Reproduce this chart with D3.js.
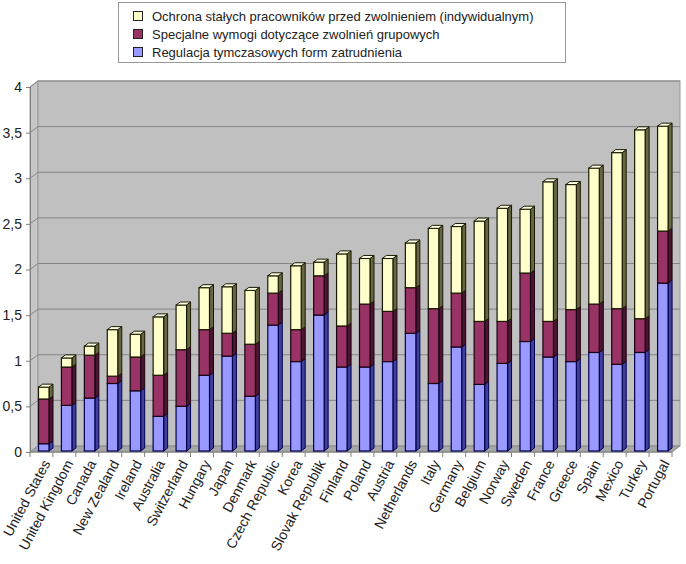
<!DOCTYPE html>
<html><head><meta charset="utf-8">
<script src="https://cdn.jsdelivr.net/npm/d3@7/dist/d3.min.js"></script>
<style>body{margin:0;background:#fff;}svg{display:block;font-family:"Liberation Sans",Arial,sans-serif;}</style>
</head><body>
<svg id="c" width="686" height="564"></svg>
<script>
const countries = ["United States","United Kingdom","Canada","New Zealand","Ireland","Australia","Switzerland","Hungary","Japan","Denmark","Czech Republic","Korea","Slovak Republik","Finland","Poland","Austria","Netherlands","Italy","Germany","Belgium","Norway","Sweden","France","Greece","Spain","Mexico","Turkey","Portugal"];
const temporary = [0.08,0.50,0.58,0.74,0.66,0.38,0.49,0.83,1.04,0.60,1.38,0.98,1.49,0.92,0.92,0.98,1.29,0.74,1.14,0.73,0.96,1.20,1.03,0.98,1.08,0.95,1.08,1.84];
const collective = [0.49,0.42,0.47,0.08,0.37,0.45,0.62,0.50,0.25,0.57,0.35,0.35,0.43,0.45,0.69,0.55,0.50,0.82,0.59,0.69,0.46,0.75,0.39,0.57,0.53,0.61,0.37,0.57];
const regular = [0.13,0.10,0.10,0.51,0.25,0.64,0.49,0.46,0.51,0.59,0.19,0.70,0.15,0.79,0.50,0.58,0.49,0.88,0.73,1.10,1.24,0.70,1.53,1.37,1.49,1.71,2.07,1.15];
const seriesNames = ["Ochrona stałych pracowników przed zwolnieniem (indywidualnym)","Specjalne wymogi dotyczące zwolnień grupowych","Regulacja tymczasowych form zatrudnienia"];
const yTicks = [0,0.5,1,1.5,2,2.5,3,3.5,4];

const svg = d3.select("#c");
const X0 = 30, X1 = 672, DX = 8, DY = -6;
const x = d3.scaleBand().domain(countries).range([X0, X1]);
const y = d3.scaleLinear().domain([0, 4]).range([452, 87]);

// walls
const yTop = y(4), yBot = y(0);
svg.append("polygon").attr("points", `${X0},${yBot} ${X0+DX},${yBot+DY} ${X0+DX},${yTop+DY} ${X0},${yTop}`).attr("fill", "#c6c6c6").attr("stroke", "#9a9a9a");
svg.append("rect").attr("x", X0+DX).attr("y", yTop+DY).attr("width", X1-X0).attr("height", yBot-yTop).attr("fill", "#c0c0c0").attr("stroke", "#9a9a9a");
// gridlines
const g = svg.append("g");
yTicks.slice(1).forEach(v => {
  g.append("line").attr("x1", X0+DX).attr("x2", X1+DX).attr("y1", y(v)+DY).attr("y2", y(v)+DY).attr("stroke", "#858585").attr("stroke-width", 1);
  g.append("line").attr("x1", X0).attr("x2", X0+DX).attr("y1", y(v)).attr("y2", y(v)+DY).attr("stroke", "#858585").attr("stroke-width", 1);
});
// floor
svg.append("polygon").attr("points", `${X0},${yBot} ${X1},${yBot} ${X1+DX},${yBot+DY} ${X0+DX},${yBot+DY}`).attr("fill", "#a6a6a6").attr("stroke", "#8a8a8a");

// y axis
const yAxis = d3.axisLeft(y).tickValues(yTicks).tickSize(4).tickPadding(4).tickFormat(v => String(v).replace(".", ","));
const ya = svg.append("g").attr("transform", `translate(${X0},0)`).call(yAxis);
ya.select(".domain").attr("stroke", "#808080");
ya.selectAll(".tick line").attr("stroke", "#808080");
ya.selectAll("text").attr("font-size", 14).attr("fill", "#222").attr("font-family", "Liberation Sans, Arial, sans-serif");

// x axis ticks
const xa = svg.append("g");
svg.append("line").attr("x1", X0).attr("x2", X1).attr("y1", yBot).attr("y2", yBot).attr("stroke", "#808080");
countries.forEach((c, i) => {
  const bx = x(c);
  xa.append("line").attr("x1", bx).attr("x2", bx).attr("y1", yBot).attr("y2", yBot+5).attr("stroke", "#808080");
});
xa.append("line").attr("x1", X1).attr("x2", X1).attr("y1", yBot).attr("y2", yBot+5).attr("stroke", "#808080");
xa.selectAll("text.xl").data(countries).join("text").attr("class", "xl")
  .attr("transform", d => `translate(${x(d) + x.bandwidth()/2 + 5},${yBot + 9}) rotate(-62)`)
  .attr("text-anchor", "end").attr("dy", "0.35em").attr("font-size", 14).attr("fill", "#222").text(d => d);

// bars
const colors = [{front:"#9999ff", side:"#40409a", top:"#b8b8ff", stroke:"#000050"},
                {front:"#993366", side:"#4a1530", top:"#b85580", stroke:"#1a0010"},
                {front:"#ffffcc", side:"#666645", top:"#ffffe6", stroke:"#1a1a00"}];
const stacks = [temporary, collective, regular];
const FW = 10.5, OFF = 8.5, SDX = 4, SDY = -3, BDY = -1;
const bars = svg.append("g");
countries.forEach((c, i) => {
  const left = x(c) + OFF;
  let base = 0;
  stacks.forEach((s, k) => {
    const v0 = base, v1 = base + s[i];
    base = v1;
    const yb = y(v0) + BDY, yt = y(v1) + BDY;
    const col = colors[k];
    bars.append("polygon").attr("points", `${left+FW},${yb} ${left+FW+SDX},${yb+SDY} ${left+FW+SDX},${yt+SDY} ${left+FW},${yt}`)
      .attr("fill", col.side).attr("stroke", col.stroke).attr("stroke-width", 1);
    bars.append("rect").attr("x", left).attr("y", yt).attr("width", FW).attr("height", yb - yt)
      .attr("fill", col.front).attr("stroke", col.stroke).attr("stroke-width", 1.2);
    if (k === stacks.length - 1) {
      bars.append("polygon").attr("points", `${left},${yt} ${left+FW},${yt} ${left+FW+SDX},${yt+SDY} ${left+SDX},${yt+SDY}`)
        .attr("fill", col.top).attr("stroke", col.stroke).attr("stroke-width", 1);
    }
  });
});

// legend
const lg = svg.append("g");
lg.append("rect").attr("x", 118.5).attr("y", 2.5).attr("width", 447).attr("height", 60).attr("fill", "#fff").attr("stroke", "#999");
const legendColors = [colors[2].front, colors[1].front, colors[0].front];
seriesNames.forEach((n, i) => {
  const cy = 16 + i * 18;
  lg.append("rect").attr("x", 133.5).attr("y", cy - 4.5).attr("width", 9).attr("height", 9).attr("fill", legendColors[i]).attr("stroke", "#222");
  lg.append("text").attr("x", 152).attr("y", cy).attr("dy", "0.35em").attr("font-size", 13).attr("fill", "#222").text(n);
});
</script>
</body></html>
